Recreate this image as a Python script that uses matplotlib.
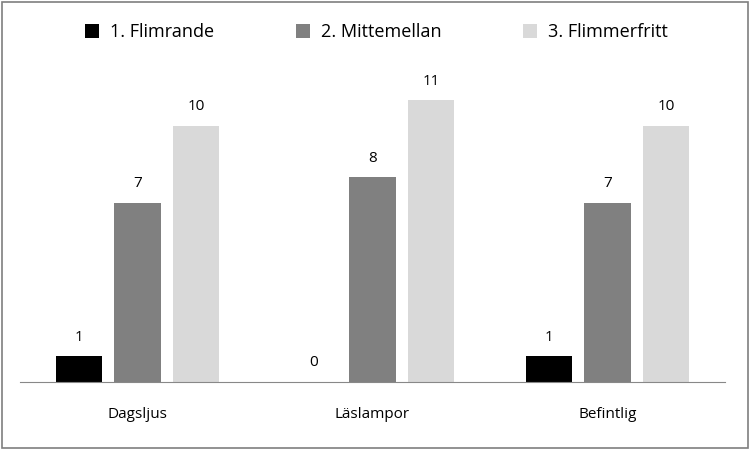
import matplotlib
matplotlib.use("Agg")
import matplotlib.pyplot as plt
from matplotlib.patches import Rectangle
import numpy as np

categories = ["Dagsljus", "Läslampor", "Befintlig"]
series_names = ["1. Flimrande", "2. Mittemellan", "3. Flimmerfritt"]
flimrande = [1, 0, 1]
mittemellan = [7, 8, 7]
flimmerfritt = [10, 11, 10]
colors = ["#000000", "#808080", "#d9d9d9"]

plt.rcParams["font.family"] = "Open Sans"
fig = plt.figure(figsize=(7.53, 4.51), dpi=100)
fig.patches.append(Rectangle((0.003, 0.006), 0.99, 0.99, transform=fig.transFigure,
                             fill=False, edgecolor="#7f7f7f", linewidth=1.2))
ax = fig.add_axes([20/753, 1-382/451, 705/753, 322/451])
x = np.arange(len(categories))
w = 0.196
for i, (vals, name, c) in enumerate(zip([flimrande, mittemellan, flimmerfritt], series_names, colors)):
    bars = ax.bar(x + (i-1)*0.25, vals, w, color=c, label=name)
    for b, v in zip(bars, vals):
        ax.text(b.get_x()+b.get_width()/2, v + 0.45, str(v), ha="center", va="bottom", fontsize=11)
ax.set_xlim(-0.5, 2.5)
ax.set_ylim(0, 322/25.6)
ax.set_xticks(x)
ax.set_xticklabels(categories, fontsize=11)
ax.tick_params(axis="x", length=0, pad=18)
ax.set_yticks([])
for s in ["top", "right", "left"]:
    ax.spines[s].set_visible(False)
ax.spines["bottom"].set_color("#888888")
fig.legend(loc="upper center", bbox_to_anchor=(0.5, 0.985), ncol=3, frameon=False,
           fontsize=13, handlelength=0.8, handleheight=0.8, columnspacing=4.5, handletextpad=0.6)
fig.savefig("out.png", dpi=100)
